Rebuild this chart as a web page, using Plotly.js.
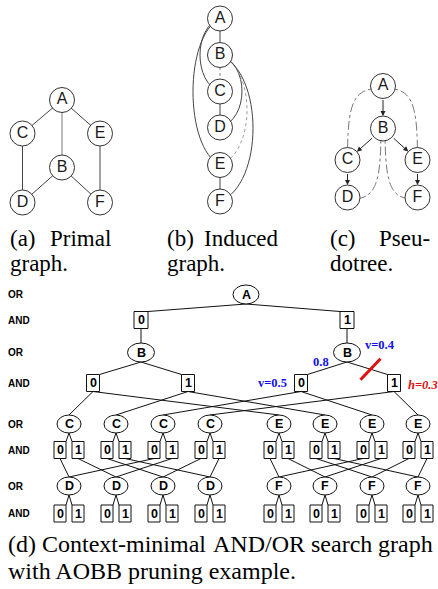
<!DOCTYPE html>
<html><head><meta charset="utf-8">
<script src="https://cdn.plot.ly/plotly-3.0.1.min.js"></script>
<style>html,body{margin:0;padding:0;background:#fff;}#plot{width:438px;height:589px;}</style>
</head><body><div id="plot"></div>
<script>
// ================= DATA =================
// (a) primal graph
const primalNodes = ['A','B','C','D','E','F'];
const primalEdges = [['A','C'],['A','E'],['C','D'],['E','F'],['B','D'],['B','F']];
const primalFaintEdges = [['A','B']];
// (b) induced graph
const inducedNodes = ['A','B','C','D','E','F'];
const inducedSolidEdges = [['A','B'],['C','D'],['E','F']];
const inducedDottedEdges = [['B','C']];
const inducedArcs = [['A','C'],['A','E'],['B','D'],['B','E'],['B','F']];
const inducedArcDotted = [false,false,false,true,false];
// (c) pseudo tree
const pseudoNodes = ['A','B','C','D','E','F'];
const pseudoTreeEdges = [['A','B'],['B','C'],['B','E'],['C','D'],['E','F']];
const pseudoBackEdges = [['A','C'],['A','E'],['B','D'],['B','F']];
// (d) AND/OR search graph
const domain = ['0','1'];
const levelLabels = ['OR','AND','OR','AND','OR','AND','OR','AND'];
const valueLabels = ['v=0.4','0.8','v=0.5','h=0.3'];
const captionA = ['(a)','Primal','graph.'];
const captionB = ['(b)','Induced','graph.'];
const captionC = ['(c)','Pseu-','dotree.'];
const captionD1 = ['(d)','Context-minimal','AND/OR','search','graph'];
const captionD2 = 'with AOBB pruning example.';

// ================= LAYOUT (positions in page pixels) =================
const primalPos = {A:[62,100],B:[62,167.5],C:[22.5,133.5],D:[22.5,202.5],E:[100,133.5],F:[100,202.5]};
const inducedPos = {A:[220,18.5],B:[220,55],C:[220,91.5],D:[220,127.5],E:[220,165],F:[220,201.5]};
const inducedBulge = [-20,-27,22,27,33];
const pseudoPos = {A:[383,86],B:[383,128.5],C:[347.5,160],D:[347.5,197.5],E:[417.5,160],F:[417.5,197.5]};
const R = 12.5;

const levelY = [294.5,320,352.5,383,424,450,486,513.5];
const xA = 246, xAand = [141,347], xBand = [[93,188],[301,394]];
const xC = [69,116,163,210], xE = [279,325,372,418], childOff = 9;

const traces = [], shapes = [], annotations = [];

function segXY(pairs,pos){const x=[],y=[];pairs.forEach(([a,b])=>{x.push(pos[a][0],pos[b][0],null);y.push(pos[a][1],pos[b][1],null);});return {x,y};}
function nodeTrace(names,pos){
  return {type:'scatter',mode:'markers+text',x:names.map(n=>pos[n][0]),y:names.map(n=>pos[n][1]),text:names,
    textposition:'middle center',textfont:{family:'Liberation Sans',size:16,color:'#1a1a1a'},
    marker:{size:2*R,color:'#fff',line:{color:'#333',width:1}},hoverinfo:'skip',cliponaxis:false};
}
// (a)
let s=segXY(primalEdges,primalPos);
traces.push({type:'scatter',mode:'lines',x:s.x,y:s.y,line:{color:'#444',width:1},hoverinfo:'skip'});
s=segXY(primalFaintEdges,primalPos);
traces.push({type:'scatter',mode:'lines',x:s.x,y:s.y,line:{color:'#999',width:1.3},hoverinfo:'skip'});
traces.push(nodeTrace(primalNodes,primalPos));
// (b)
s=segXY(inducedSolidEdges,inducedPos);
traces.push({type:'scatter',mode:'lines',x:s.x,y:s.y,line:{color:'#444',width:1},hoverinfo:'skip'});
s=segXY(inducedDottedEdges,inducedPos);
traces.push({type:'scatter',mode:'lines',x:s.x,y:s.y,line:{color:'#888',width:1,dash:'dot'},hoverinfo:'skip'});
inducedArcs.forEach(([a,b],i)=>{
  const [x1,y1]=inducedPos[a],[x2,y2]=inducedPos[b];const c=inducedBulge[i]/0.75;const L=y2-y1;
  shapes.push({type:'path',layer:'below',xref:'x',yref:'y',
    path:`M ${x1},${y1} C ${x1+c},${y1+0.12*L} ${x2+c},${y2-0.12*L} ${x2},${y2}`,
    line:{color:inducedArcDotted[i]?'#999':'#444',width:1,dash:inducedArcDotted[i]?'dot':'solid'}});
});
traces.push(nodeTrace(inducedNodes,inducedPos));
// (c)
pseudoBackEdges.forEach(([a,b])=>{
  const [x1,y1]=pseudoPos[a],[x2,y2]=pseudoPos[b];let p;
  if(a==='A'){p=`M ${x1},${y1+2} C ${x1+(x2-x1)*0.85},${y1+2} ${x2},${y1+15} ${x2},${y2}`;}
  else{const sx=x1+(x2>x1?2:-2);p=`M ${sx},${y1} C ${sx},${y2-8} ${sx+(x2-sx)*0.2},${y2+2} ${x2},${y2+2}`;}
  shapes.push({type:'path',layer:'below',xref:'x',yref:'y',path:p,line:{color:'#777',width:1,dash:'dashdot'}});
});
traces.push(nodeTrace(pseudoNodes,pseudoPos));
pseudoTreeEdges.forEach(([a,b])=>{
  annotations.push({x:pseudoPos[b][0],y:pseudoPos[b][1],ax:pseudoPos[a][0],ay:pseudoPos[a][1],axref:'x',ayref:'y',xref:'x',yref:'y',
    text:'',showarrow:true,arrowhead:2,arrowsize:1,arrowwidth:1,arrowcolor:'#222',standoff:R,startstandoff:R});
});

// (d) build AND/OR graph
const tree=[],byId={},treeEdges=[];
function node(id,label,kind,x,y,w,h){const n={id,label,kind,x,y,w,h};tree.push(n);byId[id]=n;}
node('A','A','or',xA,levelY[0],26,19);
domain.forEach((a,ai)=>{
  node('A'+a,a,'and',xAand[ai],levelY[1],14,17);treeEdges.push(['A','A'+a]);
  node('B|'+a,'B','or',xAand[ai],levelY[2],27,19);treeEdges.push(['A'+a,'B|'+a]);
  domain.forEach((b,bi)=>{const id='B'+b+'|'+a;node(id,b,'and',xBand[ai][bi],levelY[3],13,17);treeEdges.push(['B|'+a,id]);});
});
domain.forEach((a,ai)=>domain.forEach((b,bi)=>{
  const k=2*ai+bi;
  ['C','E'].forEach(v=>{
    const xs=v==='C'?xC:xE,oid=v+'|'+a+b;
    node(oid,v,'or',xs[k],levelY[4],24,18);treeEdges.push(['B'+b+'|'+a,oid]);
    domain.forEach((c,ci)=>{const id=v+c+'|'+a+b;node(id,c,'and',xs[k]+(ci?1:-1)*childOff,levelY[5],12,17);treeEdges.push([oid,id]);});
  });
}));
domain.forEach((b,bi)=>domain.forEach((c,ci)=>{
  const j=2*bi+ci;
  [['D','C',xC],['F','E',xE]].forEach(([v,par,xs])=>{
    const oid=v+'|'+b+c;node(oid,v,'or',xs[j],levelY[6],24,18);
    domain.forEach(a=>treeEdges.push([par+c+'|'+a+b,oid]));
    domain.forEach((d,di)=>{const id=v+d+'|'+b+c;node(id,d,'and',xs[j]+(di?1:-1)*childOff,levelY[7],12,17);treeEdges.push([oid,id]);});
  });
}));
function edgeEnds(pid,cid){
  const p=byId[pid],c=byId[cid];
  const x1=p.x,y1=p.y+p.h/2;
  const x2=c.kind==='and'?Math.min(Math.max(p.x,c.x-c.w/2),c.x+c.w/2):c.x,y2=c.y-c.h/2;
  return [x1,y1,x2,y2];
}
const ex=[],ey=[];
treeEdges.forEach(([p,c])=>{const e=edgeEnds(p,c);ex.push(e[0],e[2],null);ey.push(e[1],e[3],null);});
traces.push({type:'scatter',mode:'lines',x:ex,y:ey,line:{color:'#111',width:1},hoverinfo:'skip'});
tree.forEach(n=>{
  shapes.push({type:n.kind==='or'?'circle':'rect',layer:'above',xref:'x',yref:'y',x0:n.x-n.w/2,x1:n.x+n.w/2,y0:n.y-n.h/2,y1:n.y+n.h/2,
    line:{color:'#111',width:1},fillcolor:'#fff'});
  annotations.push({x:n.x,y:n.y,xref:'x',yref:'y',text:'<b>'+n.label+'</b>',showarrow:false,xanchor:'center',yanchor:'middle',
    font:{family:'Liberation Sans',size:12.5,color:'#000'}});
});
levelLabels.forEach((t,i)=>annotations.push({x:6,y:levelY[i],xref:'x',yref:'y',text:'<b>'+t+'</b>',showarrow:false,xanchor:'left',yanchor:'middle',
  font:{family:'Liberation Sans',size:10,color:'#000'}}));
// pruning annotations
const bB=byId['B|1'];
const blue='#1010ee',red='#e01010';
annotations.push({x:bB.x+16,y:bB.y-8,xref:'x',yref:'y',text:'<b>'+valueLabels[0]+'</b>',showarrow:false,xanchor:'left',yanchor:'middle',font:{family:'Liberation Serif',size:12.5,color:blue}});
annotations.push({x:bB.x-36,y:bB.y+9.5,xref:'x',yref:'y',text:'<b>'+valueLabels[1]+'</b>',showarrow:false,xanchor:'left',yanchor:'middle',font:{family:'Liberation Serif',size:12.5,color:blue}});
const b0=byId['B0|1'],b1=byId['B1|1'];
annotations.push({x:b0.x-12,y:b0.y,xref:'x',yref:'y',text:'<b>'+valueLabels[2]+'</b>',showarrow:false,xanchor:'right',yanchor:'middle',font:{family:'Liberation Serif',size:12.5,color:blue}});
annotations.push({x:b1.x+12,y:b1.y+2,xref:'x',yref:'y',text:'<b><i>'+valueLabels[3]+'</i></b>',showarrow:false,xanchor:'left',yanchor:'middle',font:{family:'Liberation Serif',size:12.5,color:red}});
const pe=edgeEnds('B|1','B1|1');const mx=pe[0]+(pe[2]-pe[0])*0.58,my=pe[1]+(pe[3]-pe[1])*0.58;
traces.push({type:'scatter',mode:'lines',x:[mx-10,mx+10],y:[my+10.5,my-10.5],line:{color:red,width:3},hoverinfo:'skip'});

// captions
const capFont={family:'Liberation Serif',size:23,color:'#000'};
[[captionA,8,113],[captionB,165,281],[captionC,328,432]].forEach(([c,l,r])=>{
  annotations.push({x:l,y:238,xref:'x',yref:'y',text:c[0],showarrow:false,xanchor:'left',yanchor:'middle',font:capFont});
  annotations.push({x:r,y:238,xref:'x',yref:'y',text:c[1],showarrow:false,xanchor:'right',yanchor:'middle',font:capFont});
  annotations.push({x:l,y:263,xref:'x',yref:'y',text:c[2],showarrow:false,xanchor:'left',yanchor:'middle',font:capFont});
});
// justified bottom caption line
const capFont2={family:'Liberation Serif',size:24,color:'#000'};
const cv=document.createElement('canvas').getContext('2d');cv.font='24px "Liberation Serif"';
const widths=captionD1.map(w=>cv.measureText(w).width);
const total=widths.reduce((a,b)=>a+b,0);const gap=(432-7-total)/(captionD1.length-1);
let cx=7;
captionD1.forEach((w,i)=>{annotations.push({x:cx,y:544,xref:'x',yref:'y',text:w,showarrow:false,xanchor:'left',yanchor:'middle',font:capFont2,borderpad:0});cx+=widths[i]+gap;});
annotations.push({x:7,y:571,xref:'x',yref:'y',text:captionD2,showarrow:false,xanchor:'left',yanchor:'middle',font:capFont2,borderpad:0});

const layout={width:438,height:589,margin:{l:0,r:0,t:0,b:0},paper_bgcolor:'#fff',plot_bgcolor:'#fff',showlegend:false,
  xaxis:{range:[0,438],visible:false,fixedrange:true},yaxis:{range:[589,0],visible:false,fixedrange:true},
  shapes,annotations};
Plotly.newPlot('plot',traces,layout,{staticPlot:true,displayModeBar:false});
</script></body></html>
